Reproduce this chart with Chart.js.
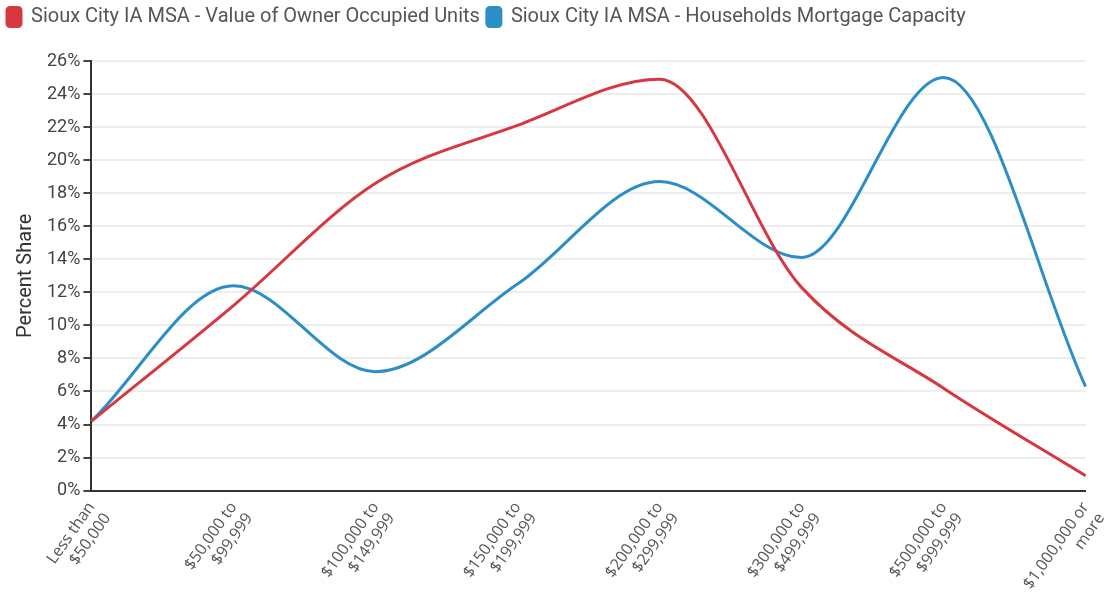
<!DOCTYPE html>
<html>
<head>
<meta charset="utf-8">
<script src="https://cdn.jsdelivr.net/npm/chart.js@4"></script>
<style>
  html, body { margin: 0; padding: 0; background: #fff; }
  #wrap { width: 1117px; height: 593px; }
</style>
</head>
<body>
<div id="wrap"><canvas id="msaChart"></canvas></div>
<script>
'use strict';

let priceRanges = [
  ['Less than', '$50,000'],
  ['$50,000 to', '$99,999'],
  ['$100,000 to', '$149,999'],
  ['$150,000 to', '$199,999'],
  ['$200,000 to', '$299,999'],
  ['$300,000 to', '$499,999'],
  ['$500,000 to', '$999,999'],
  ['$1,000,000 or', 'more']
];

let ownerOccupied = [4.2, 11.2, 18.6, 22.1, 24.9, 12.3, 6.2, 0.9];
let mortgageCapacity = [4.2, 12.4, 7.2, 12.5, 18.7, 14.1, 25.0, 6.3];

let yTickMax = 26;
let yTickStep = 2;

// push the plot down a bit below the legend
let legendGap = {
  id: 'legendGap',
  beforeInit(chart) {
    let oldFit = chart.legend.fit;
    chart.legend.fit = function () {
      oldFit.bind(chart.legend)();
      this.height += 24;
    };
  }
};

function renderChart() {
  const ctx = document.getElementById('msaChart');

  let config = {
    type: 'line',
    data: {
      labels: priceRanges,
      datasets: [
        {
          label: 'Sioux City IA MSA - Value of Owner Occupied Units',
          data: ownerOccupied,
          borderColor: '#d7373f',
          backgroundColor: '#d7373f',
          borderWidth: 3,
          pointRadius: 0,
          cubicInterpolationMode: 'monotone',
          fill: false
        },
        {
          label: 'Sioux City IA MSA - Households Mortgage Capacity',
          data: mortgageCapacity,
          borderColor: '#2b8fc5',
          backgroundColor: '#2b8fc5',
          borderWidth: 3,
          pointRadius: 0,
          cubicInterpolationMode: 'monotone',
          fill: false
        }
      ]
    },
    options: {
      responsive: true,
      maintainAspectRatio: false,
      animation: false,
      layout: {
        padding: { left: 0, right: 0, top: 0, bottom: 0 }
      },
      plugins: {
        legend: {
          position: 'top',
          align: 'start',
          labels: {
            color: '#555',
            font: { family: 'Roboto', size: 20 },
            boxWidth: 14,
            boxHeight: 19,
            useBorderRadius: true,
            borderRadius: 3,
            padding: 7
          }
        },
        tooltip: { enabled: false }
      },
      scales: {
        x: {
          grid: { display: false },
          border: { color: '#333', width: 2 },
          afterFit: function (scale) {
            // the rotated labels get more room than they need
            scale.height -= 11;
          },
          ticks: {
            color: '#555',
            font: { family: 'Open Sans', size: 16 },
            minRotation: 55,
            maxRotation: 55,
            autoSkip: false,
            padding: 0
          }
        },
        y: {
          min: 0,
          max: yTickMax,
          border: { color: '#333', width: 2 },
          grid: {
            color: '#eeeeee',
            lineWidth: 2,
            tickColor: '#444',
            tickLength: 8
          },
          ticks: {
            stepSize: yTickStep,
            color: '#444',
            font: { family: 'Roboto', size: 18 },
            padding: 3,
            callback: function (value) {
              return value + '%';
            }
          },
          title: {
            display: true,
            text: 'Percent Share',
            color: '#333',
            font: { family: 'Roboto', size: 20 },
            padding: { top: 14, bottom: 6 }
          }
        }
      }
    },
    plugins: [legendGap]
  };
  let myChart = new Chart(ctx, config);
}

renderChart();
</script>
</body>
</html>
